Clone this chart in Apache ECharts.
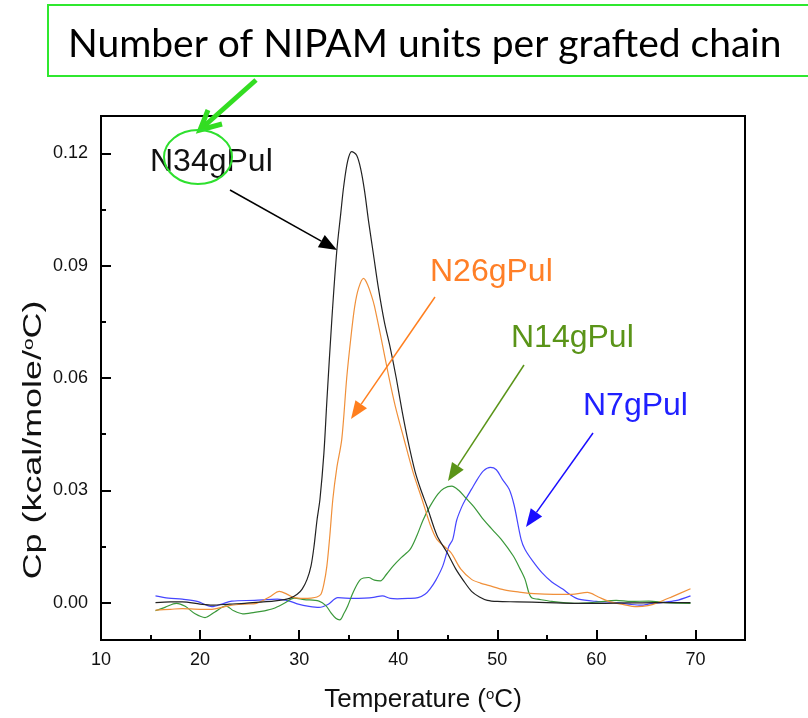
<!DOCTYPE html>
<html>
<head>
<meta charset="utf-8">
<script src="https://cdn.jsdelivr.net/npm/echarts@6/dist/echarts.min.js"></script>
<style>html,body{margin:0;padding:0;background:#fff;}#c{width:808px;height:718px;}</style>
</head>
<body>
<div id="c"></div>
<script>
// ---- data (Temperature °C, Cp kcal/mole/°C) ----
var n34T  = [15.5,17,18.2,20,21.2,23,24.5,26,27.4,28.5,29.1,29.8,30.3,30.8,31.2,31.5,31.8,32.1,32.5,32.8,33.3,33.8,34.2,34.5,34.9,35.3,35.8,36.2,36.6,37.0,37.5,38.0,38.6,39.2,39.8,40.4,41.0,41.7,42.3,42.9,43.9,44.9,45.8,46.6,47.4,48.2,49.0,50,52,55,58,60,63,66,69.5];
var n34Cp = [0,0.0002,0.0002,-0.0004,-0.0007,-0.0004,-0.0002,0.0001,0.0004,0.0008,0.0012,0.0022,0.0036,0.0062,0.0098,0.015,0.022,0.0276,0.040,0.054,0.0757,0.094,0.104,0.1113,0.118,0.1205,0.1195,0.116,0.110,0.102,0.093,0.084,0.075,0.068,0.060,0.051,0.043,0.035,0.030,0.0257,0.018,0.0135,0.009,0.0058,0.003,0.0015,0.0006,0.0003,0.0002,0,-0.0002,-0.0002,-0.0001,0,0];

var n26T  = [15.5,17,18.2,20,21.2,22.3,23.2,24.5,25.7,27,28,28.8,29.5,30.5,31.2,31.8,32.2,32.5,32.8,33.1,33.4,33.8,34.3,34.8,35.2,35.6,36.0,36.5,36.9,37.3,37.6,38.3,39.0,39.7,40.6,41.5,42.4,43.2,43.9,45.3,46.3,47.4,48.3,49.1,50.7,52.2,53.7,55.7,57.5,59.1,60.2,61.2,62.5,64.1,65.2,66.2,67.5,69.5];
var n26Cp = [-0.002,-0.0018,-0.0016,-0.0018,-0.0018,-0.0012,-0.0007,-0.0004,-0.0002,0.0015,0.003,0.0022,0.0013,0.0011,0.0012,0.0015,0.0022,0.005,0.0098,0.018,0.0276,0.036,0.0436,0.060,0.0703,0.079,0.084,0.0866,0.085,0.082,0.0792,0.0703,0.061,0.0525,0.0435,0.0348,0.0276,0.021,0.0169,0.0134,0.009,0.0062,0.0052,0.0046,0.0034,0.0028,0.0024,0.0022,0.0022,0.0027,0.0015,0.0004,-0.0004,-0.0011,-0.0008,0,0.0014,0.0037];

var n14T  = [15.5,16.5,17.6,18.5,19.5,20.5,21.5,22.6,23.4,24.3,25.5,26.5,27.4,28.5,29.5,30.5,32.0,32.7,33.2,33.7,34.1,34.5,34.9,35.5,36.2,37.0,37.6,38.2,38.8,39.5,40.3,41.2,41.9,42.5,43.2,44.0,44.6,45.4,46.1,46.8,47.6,48.5,49.5,50.4,51.6,52.3,52.8,53.2,53.5,54.1,55.5,57.8,60,62,63.5,65.3,67,69.5];
var n14Cp = [-0.0022,-0.0012,-0.0002,-0.001,-0.003,-0.004,-0.0025,-0.0009,-0.0022,-0.003,-0.0026,-0.0022,-0.0016,-0.0002,0.0012,0.0008,0.0004,-0.0008,-0.0027,-0.0042,-0.0046,-0.003,-0.0009,0.003,0.0062,0.0067,0.006,0.0058,0.0075,0.0098,0.012,0.0142,0.018,0.022,0.0257,0.029,0.0305,0.0311,0.030,0.028,0.0257,0.0225,0.0195,0.0169,0.0125,0.009,0.0062,0.0025,0.0012,0.0009,0.0003,-0.0002,0.0001,0.0006,0.0003,0.0004,0,-0.0002];

var n7T   = [15.5,16.8,18.2,19.7,21.2,22.2,23.2,25.5,27.8,29.0,29.9,31.0,32.0,32.9,33.9,35.5,36.6,37.5,38.4,39.2,39.9,41.0,42.0,42.7,43.2,43.8,44.5,45.1,45.5,45.9,46.4,46.8,47.4,48.0,48.6,49.3,49.9,50.5,51.2,51.7,52.4,52.8,53.6,54.5,55.5,56.6,57.4,58.2,60,62,63.5,64.5,65.5,66.6,68,69.5];
var n7Cp  = [0.0018,0.0012,0.0009,0.0003,-0.0011,-0.0004,0.0004,0.0006,0.0009,0.0004,-0.0004,-0.001,-0.0013,-0.0005,0.0013,0.0011,0.0012,0.0014,0.0018,0.0011,0.001,0.0011,0.0013,0.0022,0.0036,0.006,0.0098,0.015,0.0169,0.022,0.0255,0.0276,0.0303,0.033,0.0352,0.0361,0.0355,0.033,0.0303,0.026,0.0169,0.0142,0.011,0.008,0.0055,0.0036,0.002,0.0009,0.0003,0,-0.0005,-0.0007,-0.0003,0,0.0005,0.0018];

var xMajorTicks = [10,20,30,40,50,60,70];
var xMinorTicks = [15,25,35,45,55,65];
var yMajorTicks = [0,0.03,0.06,0.09,0.12];
var yMinorTicks = [0.015,0.045,0.075,0.105];

var titleText = 'Number of NIPAM units per grafted chain';
var seriesNames = ['N34gPul','N26gPul','N14gPul','N7gPul'];

function pairs(t, v){ return t.map(function(x,i){ return [x, v[i]]; }); }

var FONT = '"Liberation Sans", Arial, sans-serif';

// ---- annotation helpers ----
function arrow(x1,y1,x2,y2,color,L,W,lw){
  var dx=x2-x1, dy=y2-y1, d=Math.sqrt(dx*dx+dy*dy), ux=dx/d, uy=dy/d;
  var bx=x2-ux*L, by=y2-uy*L, px=-uy*W/2, py=ux*W/2;
  return [
    {type:'line', shape:{x1:x1,y1:y1,x2:bx,y2:by}, style:{stroke:color,lineWidth:lw||1.5}, z:10},
    {type:'polygon', shape:{points:[[x2,y2],[bx+px,by+py],[bx-px,by-py]]}, style:{fill:color}, z:10}
  ];
}
function label(text,x,y,color){
  return {type:'text', x:x, y:y, style:{text:text, fill:color, font:'32px ' + FONT, textVerticalAlign:'middle'}, z:10};
}

var graphics = [];
// title box
graphics.push({type:'rect', shape:{x:48,y:5,width:775,height:71}, style:{fill:'#fff', stroke:'#2fe82f', lineWidth:2}, z:20});
graphics.push({type:'text', x:68, y:44, style:{text:titleText, fill:'#000', font:'39px Lato, "Open Sans", sans-serif', textVerticalAlign:'middle'}, z:21});
// green pointer arrow + circle
graphics.push({type:'line', shape:{x1:256,y1:80,x2:202,y2:128}, style:{stroke:'#33dd22', lineWidth:5}, z:15});
graphics.push({type:'polyline', shape:{points:[[208,110],[200,130],[222,124]]}, style:{stroke:'#33dd22', lineWidth:5, lineJoin:'miter'}, z:15});
graphics.push({type:'ellipse', shape:{cx:198,cy:157,rx:34,ry:27}, style:{fill:'none', stroke:'#2ee02e', lineWidth:2}, z:15});
// series labels
graphics.push(label(seriesNames[0],150,162,'#111'));
graphics.push(label(seriesNames[1],430,272,'#ff7f27'));
graphics.push(label(seriesNames[2],511,338,'#5a9418'));
graphics.push(label(seriesNames[3],583,406,'#2020ff'));
graphics = graphics.concat(arrow(230,190,337,250,'#000',18,14,1.5));
graphics = graphics.concat(arrow(435,297,351,419,'#ff7f1f',18,14,1.5));
graphics = graphics.concat(arrow(524,365,448,481,'#5a9418',18,14,1.5));
graphics = graphics.concat(arrow(593,433,526,527,'#1a0dff',18,14,1.5));
// y axis title (stretched along its length as in the reference)
graphics.push({type:'text', x:34, y:440, rotation:Math.PI/2, scaleX:1.38, scaleY:1,
  style:{text:'{a|Cp (kcal/mole/}{s|o}{a|C)}', textAlign:'center', textVerticalAlign:'middle',
    rich:{a:{fontSize:26, fontFamily:FONT, fill:'#111'}, s:{fontSize:15, fontFamily:FONT, fill:'#111', verticalAlign:'top', padding:[0,0,10,0]}}}, z:10});

var tickFont = {color:'#111', fontSize:18, fontFamily:FONT};

var chart = echarts.init(document.getElementById('c'));
chart.setOption({
  animation:false,
  backgroundColor:'#fff',
  grid:{left:101, right:63, top:116, bottom:77, show:true, borderColor:'#000', borderWidth:2, backgroundColor:'transparent'},
  xAxis:[
    {type:'value', min:10, max:75, position:'bottom',
     axisLine:{onZero:false, lineStyle:{color:'#000', width:2}},
     axisTick:{inside:true, length:10, customValues:xMajorTicks, lineStyle:{color:'#000', width:2}},
     axisLabel:{customValues:xMajorTicks, margin:11, color:tickFont.color, fontSize:tickFont.fontSize, fontFamily:tickFont.fontFamily},
     splitLine:{show:false},
     name:'{a|Temperature (}{s|o}{a|C)}', nameLocation:'middle', nameGap:47,
     nameTextStyle:{rich:{a:{fontSize:26, fontFamily:FONT, color:'#111'}, s:{fontSize:15, fontFamily:FONT, color:'#111', verticalAlign:'top', padding:[0,0,10,0]}}}
    },
    {type:'value', min:10, max:75, position:'bottom',
     axisLine:{show:false, onZero:false},
     axisTick:{inside:true, length:5, customValues:xMinorTicks, lineStyle:{color:'#000', width:2}},
     axisLabel:{show:false}, splitLine:{show:false}}
  ],
  yAxis:[
    {type:'value', min:-0.01, max:0.13, position:'left',
     axisLine:{onZero:false, lineStyle:{color:'#000', width:2}},
     axisTick:{inside:true, length:10, customValues:yMajorTicks, lineStyle:{color:'#000', width:2}},
     axisLabel:{customValues:yMajorTicks, margin:13, formatter:function(v){return v.toFixed(2);}, color:tickFont.color, fontSize:tickFont.fontSize, fontFamily:tickFont.fontFamily},
     splitLine:{show:false}
    },
    {type:'value', min:-0.01, max:0.13, position:'left',
     axisLine:{show:false, onZero:false},
     axisTick:{inside:true, length:5, customValues:yMinorTicks, lineStyle:{color:'#000', width:2}},
     axisLabel:{show:false}, splitLine:{show:false}}
  ],
  series:[
    {name:seriesNames[3], type:'line', data:pairs(n7T,n7Cp), showSymbol:false, smooth:0.3, lineStyle:{color:'#4646ff', width:1.2}},
    {name:seriesNames[2], type:'line', data:pairs(n14T,n14Cp), showSymbol:false, smooth:0.3, lineStyle:{color:'#3a983a', width:1.2}},
    {name:seriesNames[1], type:'line', data:pairs(n26T,n26Cp), showSymbol:false, smooth:0.3, lineStyle:{color:'#f0903a', width:1.2}},
    {name:seriesNames[0], type:'line', data:pairs(n34T,n34Cp), showSymbol:false, smooth:0.3, lineStyle:{color:'#222', width:1.2}}
  ],
  graphic:graphics
});
</script>
</body>
</html>
